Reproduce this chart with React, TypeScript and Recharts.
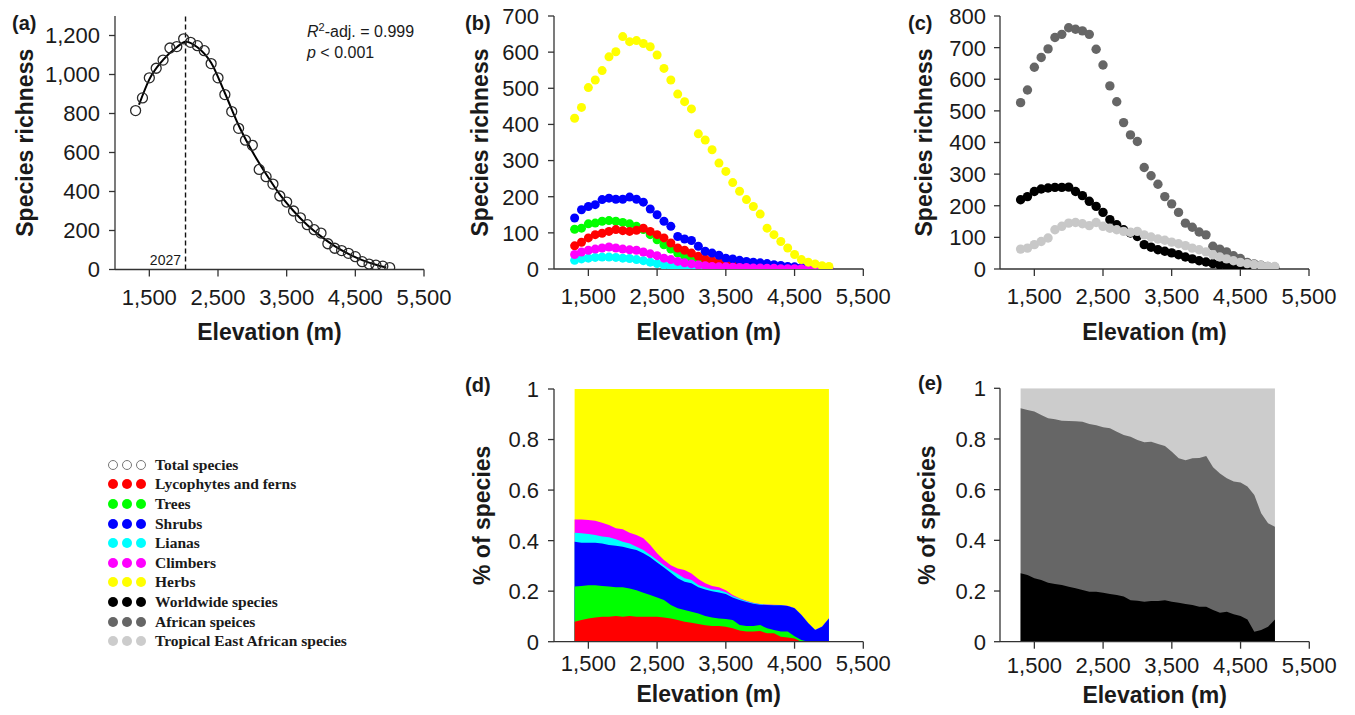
import React from "react";
import {
  ComposedChart,
  Scatter,
  Line,
  Area,
  XAxis,
  YAxis,
  ReferenceLine,
} from "recharts";

// Elevation bands (m), every 100 m
const ELEVATION = [
  1300, 1400, 1500, 1600, 1700, 1800, 1900, 2000, 2100, 2200, 2300, 2400, 2500,
  2600, 2700, 2800, 2900, 3000, 3100, 3200, 3300, 3400, 3500, 3600, 3700, 3800,
  3900, 4000, 4100, 4200, 4300, 4400, 4500, 4600, 4700, 4800, 4900, 5000,
];
const ELEV_TICKS = [1500, 2500, 3500, 4500, 5500];

// (a) total species richness + fitted curve
const TOTAL = [
  815, 880, 983, 1032, 1074, 1136, 1143, 1183, 1165, 1148, 1122, 1056, 983, 897,
  810, 724, 663, 637, 513, 476, 438, 377, 346, 300, 265, 230, 204, 187, 132, 109,
  97, 83, 66, 40, 28, 22, 17, 10,
];
const FIT_ELEV = [
  1350, 1500, 1700, 1900, 2027, 2200, 2400, 2600, 2800, 3000, 3200, 3400, 3600,
  3800, 4000, 4200, 4400, 4600, 4800, 4950,
];
const FIT_TOTAL = [
  845, 975, 1075, 1140, 1168, 1140, 1060, 905, 740, 605, 490, 385, 300, 228, 170,
  120, 80, 48, 24, 10,
];
const PEAK_ELEVATION = 2027;

// (b) richness by life form
const FERNS = [
  64, 74, 86, 95, 99, 104, 109, 106, 104, 107, 113, 104, 95, 86, 72, 58, 52, 44,
  35, 28, 23, 19, 17, 12, 10, 8, 7, 6, 5, 4, 3, 2, 1, 1, null, null, null, null,
];
const TREES = [
  110, 113, 125, 127, 132, 134, 132, 129, 125, 118, 109, 95, 81, 67, 55, 44, 35,
  30, 26, 21, 18, 17, 14, 10, 7, 6, 5, 4, 3, 2, 2, 1, 1, null, null, null, null,
  null,
];
const SHRUBS = [
  141, 164, 173, 178, 192, 196, 193, 193, 199, 193, 185, 166, 150, 132, 118, 90,
  83, 79, 63, 49, 44, 38, 30, 28, 24, 21, 19, 17, 15, 12, 10, 7, 6, 4, 3, 2, 1, 1,
];
const LIANAS = [
  24, 28, 30, 32, 33, 33, 32, 30, 29, 26, 23, 19, 15, 11, 7, 5, 3, 2, 1, null,
  null, null, null, null, null, null, null, null, null, null, null, null, null,
  null, null, null, null, null,
];
const CLIMBERS = [
  40, 47, 52, 55, 58, 61, 58, 55, 53, 52, 47, 42, 37, 30, 26, 21, 17, 14, 11, 9,
  7, 6, 6, 5, 4, 4, 3, 3, 2, 2, 1, 1, 1, 1, 0, 0, 0, 0,
];
const HERBS = [
  417, 447, 502, 523, 549, 587, 601, 643, 629, 632, 624, 615, 592, 555, 523, 484,
  463, 443, 374, 357, 330, 293, 270, 239, 215, 192, 173, 152, 113, 95, 76, 58, 40,
  26, 19, 14, 9, 7,
];

// (c) richness by distribution range
const WORLDWIDE = [
  219, 229, 245, 253, 256, 258, 258, 259, 245, 232, 214, 198, 179, 156, 140, 124,
  114, 103, 77, 69, 61, 56, 51, 45, 38, 32, 26, 22, 17, 13, 9, 7, 5, 3, 1, 1, 1, 1,
];
const AFRICAN = [
  526, 566, 638, 669, 696, 732, 742, 763, 758, 753, 742, 695, 645, 579, 529, 463,
  424, 403, 321, 295, 268, 229, 206, 179, 145, 132, 117, 108, 72, 63, 54, 42, 33,
  21, 16, 12, 8, 6,
];
const TROPICAL_EA = [
  63, 66, 77, 87, 98, 124, 135, 145, 147, 143, 137, 147, 135, 129, 124, 119, 116,
  119, 108, 101, 95, 91, 85, 80, 74, 66, 61, 54, 45, 38, 32, 26, 21, 17, 14, 11,
  8, 8,
];

// (d) cumulative share of species, bottom layer upwards (herbs fill to 1)
const SHARE_FERNS = [
  0.079, 0.086, 0.092, 0.096, 0.099, 0.099, 0.102, 0.099, 0.102, 0.099, 0.099,
  0.099, 0.099, 0.096, 0.092, 0.086, 0.079, 0.075, 0.07, 0.065, 0.062, 0.062,
  0.059, 0.053, 0.044, 0.04, 0.04, 0.042, 0.033, 0.033, 0.02, 0.017, 0.013, 0, 0,
  0, 0, 0,
];
const SHARE_TO_TREES = [
  0.218, 0.22, 0.223, 0.223, 0.22, 0.218, 0.215, 0.215, 0.211, 0.204, 0.194,
  0.185, 0.175, 0.165, 0.145, 0.132, 0.125, 0.119, 0.112, 0.102, 0.096, 0.092,
  0.09, 0.086, 0.066, 0.062, 0.062, 0.066, 0.053, 0.046, 0.04, 0.04, 0.022, 0.007,
  0, 0, 0, 0,
];
const SHARE_TO_SHRUBS = [
  0.396, 0.392, 0.392, 0.392, 0.389, 0.383, 0.38, 0.376, 0.369, 0.363, 0.35,
  0.334, 0.313, 0.294, 0.273, 0.251, 0.237, 0.231, 0.215, 0.207, 0.2, 0.195,
  0.189, 0.175, 0.165, 0.157, 0.15, 0.146, 0.145, 0.144, 0.144, 0.141, 0.132,
  0.106, 0.073, 0.046, 0.059, 0.092,
];
const SHARE_TO_LIANAS = [
  0.431, 0.429, 0.426, 0.422, 0.416, 0.413, 0.405, 0.396, 0.389, 0.376, 0.363,
  0.343, 0.323, 0.303, 0.284, 0.268, 0.251, 0.244, 0.224, 0.215, 0.207, 0.205,
  0.196, 0.18, 0.17, 0.16, 0.153, 0.148, 0.146, 0.145, 0.144, 0.141, 0.132, 0.106,
  0.073, 0.046, 0.059, 0.092,
];
const SHARE_TO_CLIMBERS = [
  0.484, 0.484, 0.482, 0.479, 0.471, 0.462, 0.449, 0.445, 0.431, 0.422, 0.409,
  0.383, 0.35, 0.323, 0.303, 0.29, 0.284, 0.27, 0.248, 0.231, 0.22, 0.215, 0.204,
  0.185, 0.172, 0.162, 0.154, 0.149, 0.147, 0.146, 0.145, 0.142, 0.133, 0.107,
  0.074, 0.047, 0.06, 0.093,
];

// (e) cumulative share, worldwide at the bottom, tropical east african fills to 1
const SHARE_WORLDWIDE = [
  0.27, 0.263, 0.25, 0.243, 0.233, 0.228, 0.224, 0.217, 0.211, 0.204, 0.197,
  0.197, 0.193, 0.188, 0.184, 0.178, 0.164, 0.162, 0.158, 0.161, 0.161, 0.164,
  0.158, 0.154, 0.149, 0.145, 0.138, 0.138, 0.125, 0.114, 0.118, 0.108, 0.101,
  0.088, 0.039, 0.046, 0.059, 0.088,
];
const SHARE_TO_AFRICAN = [
  0.921, 0.914, 0.908, 0.895, 0.882, 0.878, 0.872, 0.871, 0.87, 0.868, 0.859,
  0.854, 0.846, 0.842, 0.829, 0.816, 0.809, 0.796, 0.787, 0.789, 0.78, 0.772,
  0.75, 0.724, 0.716, 0.724, 0.725, 0.733, 0.688, 0.664, 0.645, 0.632, 0.628,
  0.612, 0.579, 0.507, 0.467, 0.454,
];

const LEGEND = [
  { label: "Total species", fill: "#ffffff", stroke: "#777777" },
  { label: "Lycophytes and ferns", fill: "#ff0000" },
  { label: "Trees", fill: "#00ff00" },
  { label: "Shrubs", fill: "#0000ff" },
  { label: "Lianas", fill: "#00ffff" },
  { label: "Climbers", fill: "#ff00ff" },
  { label: "Herbs", fill: "#ffff00" },
  { label: "Worldwide species", fill: "#000000" },
  { label: "African speices", fill: "#666666" },
  { label: "Tropical East African species", fill: "#cccccc" },
];

const FONT = '"Liberation Sans", Arial, Helvetica, sans-serif';
const AXIS = "#333333";
const INK = "#1a1a1a";
const TICK_FONT = 22;

function points(values: (number | null)[]) {
  return ELEVATION.map((elev, i) => ({ elev, v: values[i] })).filter(
    (p) => p.v !== null
  );
}

const fitRows = FIT_ELEV.map((elev, i) => ({ elev, fit: FIT_TOTAL[i] }));

const lifeFormRows = ELEVATION.map((elev, i) => ({
  elev,
  herbs: 1,
  climbers: SHARE_TO_CLIMBERS[i],
  lianas: SHARE_TO_LIANAS[i],
  shrubs: SHARE_TO_SHRUBS[i],
  trees: SHARE_TO_TREES[i],
  ferns: SHARE_FERNS[i],
}));

const rangeRows = ELEVATION.map((elev, i) => ({
  elev,
  tropical: 1,
  african: SHARE_TO_AFRICAN[i],
  worldwide: SHARE_WORLDWIDE[i],
}));

const withComma = (v: number) =>
  v >= 1000
    ? `${Math.floor(v / 1000)},${String(v % 1000).padStart(3, "0")}`
    : String(v);

function ElevTick(props: any) {
  const { x, y, payload, dy } = props;
  return (
    <text
      x={x}
      y={y}
      dy={dy}
      textAnchor="middle"
      fontSize={TICK_FONT}
      fill={INK}
      fontFamily={FONT}
    >
      {withComma(payload.value)}
    </text>
  );
}

function CountTick(props: any) {
  const { x, y, payload } = props;
  return (
    <text
      x={x}
      y={y}
      dy="0.36em"
      textAnchor="end"
      fontSize={TICK_FONT}
      fill={INK}
      fontFamily={FONT}
    >
      {withComma(payload.value)}
    </text>
  );
}

const yTitle = (text: string, x: number, cy: number) => () =>
  (
    <text
      x={x}
      y={cy}
      dy="0.36em"
      transform={`rotate(-90 ${x} ${cy})`}
      textAnchor="middle"
      fontSize={23}
      fontWeight={700}
      fontFamily={FONT}
      fill={INK}
    >
      {text}
    </text>
  );

const xTitle = (cx: number, cy: number) => () =>
  (
    <text
      x={cx}
      y={cy}
      dy="0.36em"
      textAnchor="middle"
      fontSize={23}
      fontWeight={700}
      fontFamily={FONT}
      fill={INK}
    >
      Elevation (m)
    </text>
  );

const openCircle = (props: any) => (
  <circle
    cx={props.cx}
    cy={props.cy}
    r={5}
    fill="none"
    stroke="#2a2a2a"
    strokeWidth={1.3}
  />
);

const dot = (color: string, r: number) => (props: any) =>
  <circle cx={props.cx} cy={props.cy} r={r} fill={color} />;

const panelLetter = (text: string, left: number, top: number) => (
  <div
    style={{
      position: "absolute",
      left,
      top,
      fontFamily: FONT,
      fontWeight: 700,
      fontSize: 20,
      lineHeight: "20px",
      color: INK,
    }}
  >
    {text}
  </div>
);

export default function App() {
  return (
    <div
      style={{
        position: "absolute",
        left: 0,
        top: 0,
        width: 1355,
        height: 715,
        background: "#ffffff",
        fontFamily: FONT,
        overflow: "hidden",
      }}
    >
      {/* (a) total richness */}
      <div style={{ position: "absolute", left: 0, top: 0 }}>
        <ComposedChart
          width={470}
          height={360}
          margin={{ top: 16, right: 46, bottom: 50.5, left: 0 }}
        >
          <XAxis
            dataKey="elev"
            type="number"
            domain={[1000, 5500]}
            ticks={ELEV_TICKS}
            interval={0}
            allowDataOverflow
            tick={<ElevTick dy={26} />}
            tickSize={7}
            stroke={AXIS}
            strokeWidth={1.3}
            height={40}
            label={xTitle(269.5, 332)}
          />
          <XAxis
            xAxisId="top"
            orientation="top"
            type="number"
            domain={[1000, 5500]}
            height={0}
            tick={false}
            tickLine={false}
            stroke={AXIS}
            strokeWidth={1.3}
          />
          <YAxis
            type="number"
            domain={[0, 1300]}
            ticks={[0, 200, 400, 600, 800, 1000, 1200]}
            interval={0}
            allowDataOverflow
            width={115}
            tick={<CountTick />}
            tickSize={6}
            tickMargin={9}
            stroke={AXIS}
            strokeWidth={1.3}
            label={yTitle("Species richness", 25, 142.75)}
          />
          <YAxis
            yAxisId="right"
            orientation="right"
            width={0}
            domain={[0, 1300]}
            tick={false}
            tickLine={false}
            stroke={AXIS}
            strokeWidth={1.3}
          />
          <ReferenceLine
            x={PEAK_ELEVATION}
            stroke="#111111"
            strokeWidth={1.4}
            strokeDasharray="5 3"
          />
          <Scatter
            data={points(TOTAL)}
            dataKey="v"
            shape={openCircle}
            isAnimationActive={false}
          />
          <Line
            data={fitRows}
            dataKey="fit"
            type="monotone"
            stroke="#000000"
            strokeWidth={2}
            dot={false}
            activeDot={false}
            isAnimationActive={false}
          />
        </ComposedChart>
      </div>

      {/* (b) life forms */}
      <div style={{ position: "absolute", left: 440, top: 0 }}>
        <ComposedChart
          width={470}
          height={360}
          margin={{ top: 16, right: 46.7, bottom: 51, left: 0 }}
        >
          <XAxis
            dataKey="elev"
            type="number"
            domain={[1000, 5500]}
            ticks={ELEV_TICKS}
            interval={0}
            allowDataOverflow
            tick={<ElevTick dy={26} />}
            tickSize={7}
            stroke={AXIS}
            strokeWidth={1.3}
            height={40}
            label={xTitle(268.7, 332)}
          />
          <XAxis
            xAxisId="top"
            orientation="top"
            type="number"
            domain={[1000, 5500]}
            height={0}
            tick={false}
            tickLine={false}
            stroke={AXIS}
            strokeWidth={1.3}
          />
          <YAxis
            type="number"
            domain={[0, 700]}
            ticks={[0, 100, 200, 300, 400, 500, 600, 700]}
            interval={0}
            allowDataOverflow
            width={114}
            tick={<CountTick />}
            tickSize={6}
            tickMargin={9}
            stroke={AXIS}
            strokeWidth={1.3}
            label={yTitle("Species richness", 40, 142.5)}
          />
          <YAxis
            yAxisId="right"
            orientation="right"
            width={0}
            domain={[0, 700]}
            tick={false}
            tickLine={false}
            stroke={AXIS}
            strokeWidth={1.3}
          />
          <Scatter data={points(LIANAS)} dataKey="v" shape={dot("#00ffff", 4.5)} isAnimationActive={false} />
          <Scatter data={points(TREES)} dataKey="v" shape={dot("#00ff00", 4.5)} isAnimationActive={false} />
          <Scatter data={points(FERNS)} dataKey="v" shape={dot("#ff0000", 4.5)} isAnimationActive={false} />
          <Scatter data={points(SHRUBS)} dataKey="v" shape={dot("#0000ff", 4.5)} isAnimationActive={false} />
          <Scatter data={points(CLIMBERS)} dataKey="v" shape={dot("#ff00ff", 4.5)} isAnimationActive={false} />
          <Scatter data={points(HERBS)} dataKey="v" shape={dot("#ffff00", 4.5)} isAnimationActive={false} />
        </ComposedChart>
      </div>

      {/* (c) distribution ranges */}
      <div style={{ position: "absolute", left: 880, top: 0 }}>
        <ComposedChart
          width={475}
          height={360}
          margin={{ top: 16, right: 46, bottom: 51, left: 0 }}
        >
          <XAxis
            dataKey="elev"
            type="number"
            domain={[1000, 5500]}
            ticks={ELEV_TICKS}
            interval={0}
            allowDataOverflow
            tick={<ElevTick dy={26} />}
            tickSize={7}
            stroke={AXIS}
            strokeWidth={1.3}
            height={40}
            label={xTitle(274.5, 332)}
          />
          <XAxis
            xAxisId="top"
            orientation="top"
            type="number"
            domain={[1000, 5500]}
            height={0}
            tick={false}
            tickLine={false}
            stroke={AXIS}
            strokeWidth={1.3}
          />
          <YAxis
            type="number"
            domain={[0, 800]}
            ticks={[0, 100, 200, 300, 400, 500, 600, 700, 800]}
            interval={0}
            allowDataOverflow
            width={120}
            tick={<CountTick />}
            tickSize={6}
            tickMargin={8}
            stroke={AXIS}
            strokeWidth={1.3}
            label={yTitle("Species richness", 44, 142.5)}
          />
          <YAxis
            yAxisId="right"
            orientation="right"
            width={0}
            domain={[0, 800]}
            tick={false}
            tickLine={false}
            stroke={AXIS}
            strokeWidth={1.3}
          />
          <Scatter data={points(AFRICAN)} dataKey="v" shape={dot("#666666", 4.7)} isAnimationActive={false} />
          <Scatter data={points(WORLDWIDE)} dataKey="v" shape={dot("#000000", 4.7)} isAnimationActive={false} />
          <Scatter data={points(TROPICAL_EA)} dataKey="v" shape={dot("#c8c8c8", 4.7)} isAnimationActive={false} />
        </ComposedChart>
      </div>

      {/* (d) share of life forms */}
      <div style={{ position: "absolute", left: 440, top: 360 }}>
        <ComposedChart
          width={470}
          height={355}
          data={lifeFormRows}
          margin={{ top: 29, right: 46.7, bottom: 33.3, left: 0 }}
        >
          <XAxis
            dataKey="elev"
            type="number"
            domain={[1000, 5500]}
            ticks={ELEV_TICKS}
            interval={0}
            allowDataOverflow
            tick={<ElevTick dy={20} />}
            tickSize={7}
            stroke={AXIS}
            strokeWidth={1.3}
            height={40}
            label={xTitle(268.7, 334)}
          />
          <XAxis
            xAxisId="top"
            orientation="top"
            type="number"
            domain={[1000, 5500]}
            height={0}
            tick={false}
            tickLine={false}
            stroke={AXIS}
            strokeWidth={1.3}
          />
          <YAxis
            type="number"
            domain={[0, 1]}
            ticks={[0, 0.2, 0.4, 0.6, 0.8, 1]}
            interval={0}
            allowDataOverflow
            width={114}
            tick={<CountTick />}
            tickSize={6}
            tickMargin={9}
            stroke={AXIS}
            strokeWidth={1.3}
            label={yTitle("% of species", 42, 155.3)}
          />
          <YAxis
            yAxisId="right"
            orientation="right"
            width={0}
            domain={[0, 1]}
            tick={false}
            tickLine={false}
            stroke={AXIS}
            strokeWidth={1.3}
          />
          <Area dataKey="herbs" type="linear" stroke="none" fill="#ffff00" fillOpacity={1} activeDot={false} isAnimationActive={false} />
          <Area dataKey="climbers" type="linear" stroke="none" fill="#ff00ff" fillOpacity={1} activeDot={false} isAnimationActive={false} />
          <Area dataKey="lianas" type="linear" stroke="none" fill="#00ffff" fillOpacity={1} activeDot={false} isAnimationActive={false} />
          <Area dataKey="shrubs" type="linear" stroke="none" fill="#0000ff" fillOpacity={1} activeDot={false} isAnimationActive={false} />
          <Area dataKey="trees" type="linear" stroke="none" fill="#00ff00" fillOpacity={1} activeDot={false} isAnimationActive={false} />
          <Area dataKey="ferns" type="linear" stroke="none" fill="#ff0000" fillOpacity={1} activeDot={false} isAnimationActive={false} />
        </ComposedChart>
      </div>

      {/* (e) share of distribution ranges */}
      <div style={{ position: "absolute", left: 880, top: 360 }}>
        <ComposedChart
          width={475}
          height={355}
          data={rangeRows}
          margin={{ top: 28.3, right: 45.7, bottom: 33.3, left: 0 }}
        >
          <XAxis
            dataKey="elev"
            type="number"
            domain={[1000, 5500]}
            ticks={ELEV_TICKS}
            interval={0}
            allowDataOverflow
            tick={<ElevTick dy={22} />}
            tickSize={7}
            stroke={AXIS}
            strokeWidth={1.3}
            height={40}
            label={xTitle(274.6, 335)}
          />
          <XAxis
            xAxisId="top"
            orientation="top"
            type="number"
            domain={[1000, 5500]}
            height={0}
            tick={false}
            tickLine={false}
            stroke={AXIS}
            strokeWidth={1.3}
          />
          <YAxis
            type="number"
            domain={[0, 1]}
            ticks={[0, 0.2, 0.4, 0.6, 0.8, 1]}
            interval={0}
            allowDataOverflow
            width={120}
            tick={<CountTick />}
            tickSize={6}
            tickMargin={8}
            stroke={AXIS}
            strokeWidth={1.3}
            label={yTitle("% of species", 47, 155)}
          />
          <YAxis
            yAxisId="right"
            orientation="right"
            width={0}
            domain={[0, 1]}
            tick={false}
            tickLine={false}
            stroke={AXIS}
            strokeWidth={1.3}
          />
          <Area dataKey="tropical" type="linear" stroke="none" fill="#cccccc" fillOpacity={1} activeDot={false} isAnimationActive={false} />
          <Area dataKey="african" type="linear" stroke="none" fill="#666666" fillOpacity={1} activeDot={false} isAnimationActive={false} />
          <Area dataKey="worldwide" type="linear" stroke="none" fill="#000000" fillOpacity={1} activeDot={false} isAnimationActive={false} />
        </ComposedChart>
      </div>

      {panelLetter("(a)", 12, 13)}
      {panelLetter("(b)", 465, 13)}
      {panelLetter("(c)", 908, 13)}
      {panelLetter("(d)", 465, 375)}
      {panelLetter("(e)", 918, 373)}

      {/* fit statistics */}
      <div
        style={{
          position: "absolute",
          left: 307,
          top: 22,
          fontSize: 16,
          lineHeight: "19px",
          color: INK,
        }}
      >
        <div>
          <i>R</i>
          <sup style={{ fontSize: 11, lineHeight: 0 }}>2</sup>-adj. = 0.999
        </div>
        <div style={{ marginTop: 2 }}>
          <i>p</i> &lt; 0.001
        </div>
      </div>
      <div
        style={{
          position: "absolute",
          left: 131,
          top: 252,
          width: 50,
          textAlign: "right",
          fontSize: 14,
          lineHeight: "16px",
          color: INK,
        }}
      >
        2027
      </div>

      {/* legend */}
      <div
        style={{
          position: "absolute",
          left: 108,
          top: 455,
          fontFamily: '"Liberation Serif", "Times New Roman", serif',
          fontWeight: 700,
          fontSize: 15.5,
          color: INK,
        }}
      >
        {LEGEND.map((item) => (
          <div
            key={item.label}
            style={{ display: "flex", alignItems: "center", height: 19.6 }}
          >
            {[0, 1, 2].map((k) => (
              <span
                key={k}
                style={{
                  width: 10,
                  height: 10,
                  boxSizing: "border-box",
                  borderRadius: "50%",
                  background: item.fill,
                  border: item.stroke ? `1px solid ${item.stroke}` : "none",
                  marginRight: k < 2 ? 4 : 9,
                }}
              />
            ))}
            <span>{item.label}</span>
          </div>
        ))}
      </div>
    </div>
  );
}
